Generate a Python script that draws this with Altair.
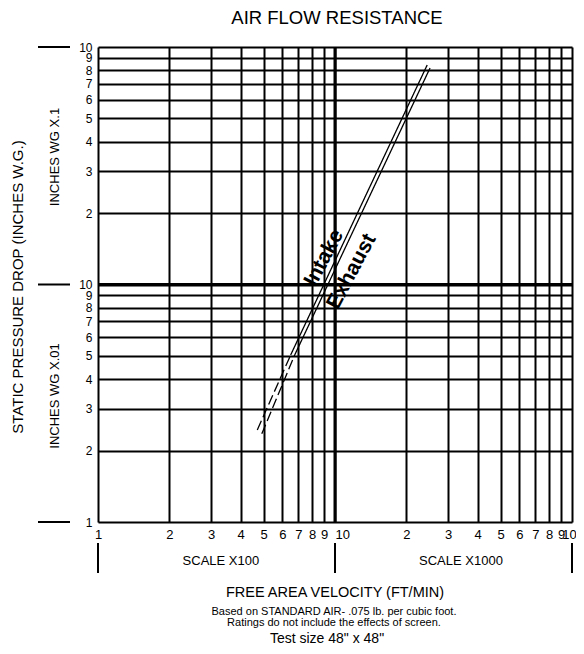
import altair as alt
import pandas as pd

FONT = "Liberation Sans"

# ---- data ----
x_ticks = [100, 200, 300, 400, 500, 600, 700, 800, 900, 1000,
           2000, 3000, 4000, 5000, 6000, 7000, 8000, 9000, 10000]
y_ticks = [0.01, 0.02, 0.03, 0.04, 0.05, 0.06, 0.07, 0.08, 0.09, 0.1,
           0.2, 0.3, 0.4, 0.5, 0.6, 0.7, 0.8, 0.9, 1.0]
major_x = [1000]
major_y = [0.1]
decade_y = [0.01, 0.1, 1.0]
decade_x = [100, 1000, 10000]

series = ["Intake", "Intake", "Intake", "Intake",
          "Exhaust", "Exhaust", "Exhaust", "Exhaust"]
segment = ["dashed", "dashed", "solid", "solid",
           "dashed", "dashed", "solid", "solid"]
velocity = [470, 650, 650, 2449, 491, 676, 676, 2518]
pressure = [0.0244, 0.0505, 0.0505, 0.84, 0.0235, 0.0505, 0.0505, 0.816]

label_names = ["Intake", "Exhaust"]
label_x = [901, 1176]
label_y = [0.1293, 0.1134]

scale_names = ["SCALE X100", "SCALE X1000"]
scale_x = [330, 3400]

title_text = "AIR FLOW RESISTANCE"
y_title = "STATIC PRESSURE DROP (INCHES W.G.)"
y_upper = "INCHES WG X.1"
y_lower = "INCHES WG X.01"
x_title = "FREE AREA VELOCITY (FT/MIN)"
note1 = "Based on STANDARD AIR-  .075 lb. per cubic foot."
note2 = "Ratings do not include the effects of screen."
note3 = 'Test size 48" x 48"'

# ---- chart ----
xs = alt.Scale(type="log", domain=[100, 10000], nice=False, zero=False)
ys = alt.Scale(type="log", domain=[0.01, 1], nice=False, zero=False)

lines_df = pd.DataFrame({"series": series, "segment": segment,
                         "v": velocity, "p": pressure,
                         "grp": [s + g for s, g in zip(series, segment)]})

x_axis = alt.Axis(values=x_ticks, grid=True, gridColor="black", gridWidth=2,
                  gridOpacity=1, ticks=False, domain=False, title=None,
                  labelFont=FONT, labelFontSize=13, labelColor="black",
                  labelPadding=6, labelFlush=False, labelOverlap=False,
                  labelAlign={"condition": {"test": "datum.value == 1000", "value": "left"},
                              "value": "center"},
                  labelOffset={"condition": {"test": "datum.value == 10000", "value": -3},
                               "value": 0},
                  labelExpr="datum.value <= 1000.5 ? '' + round(datum.value/100) : '' + round(datum.value/1000)")
y_axis = alt.Axis(values=y_ticks, grid=True, gridColor="black", gridWidth=2,
                  gridOpacity=1, ticks=False, domain=False, title=None,
                  labelFont=FONT, labelFontSize=12, labelColor="black",
                  labelPadding=6, labelFlush=False, labelOverlap=False,
                  labelBaseline="middle",
                  labelExpr="datum.value <= 0.1000001 ? '' + round(datum.value*100) : '' + round(datum.value*10)")

X = lambda f: alt.X(f, scale=xs, axis=x_axis)
Y = lambda f: alt.Y(f, scale=ys, axis=y_axis)

lines = alt.Chart(lines_df).mark_line(color="black", strokeWidth=1.3).encode(
    x=X("v:Q"),
    y=Y("p:Q"),
    detail="grp:N",
    strokeDash=alt.StrokeDash("segment:N",
                              scale=alt.Scale(domain=["dashed", "solid"], range=[[10, 4], [1, 0]]),
                              legend=None),
)

major_v = alt.Chart(pd.DataFrame({"v": major_x})).mark_rule(color="black", strokeWidth=3).encode(
    x=X("v:Q"))
major_h = alt.Chart(pd.DataFrame({"p": major_y})).mark_rule(color="black", strokeWidth=3).encode(
    y=Y("p:Q"))

left_dash = alt.Chart(pd.DataFrame({"p": decade_y})).mark_rule(color="black", strokeWidth=2).encode(
    y=Y("p:Q"), x=alt.value(-60), x2=alt.value(-28))

bottom_bars = alt.Chart(pd.DataFrame({"v": decade_x})).mark_rule(color="black", strokeWidth=2).encode(
    x=X("v:Q"), y=alt.value(496), y2=alt.value(526))

line_labels = alt.Chart(pd.DataFrame({"name": label_names, "v": label_x, "p": label_y})).mark_text(
    font=FONT, fontSize=21, fontWeight="bold", angle=298, color="black",
    align="center", baseline="middle").encode(
    x=X("v:Q"), y=Y("p:Q"), text="name:N")

scale_labels = alt.Chart(pd.DataFrame({"name": scale_names, "v": scale_x})).mark_text(
    font=FONT, fontSize=13, color="black", align="center", baseline="middle").encode(
    x=X("v:Q"), y=alt.value(514), text="name:N")


def note(txt, px, py, size, angle=0):
    return alt.Chart(pd.DataFrame({"t": [txt]})).mark_text(
        font=FONT, fontSize=size, color="black", align="center",
        baseline="middle", angle=angle).encode(
        x=alt.value(px), y=alt.value(py), text="t:N")


texts = [
    note(title_text, 239, -29, 18.5),
    note(y_title, -80, 240, 15, 270),
    note(y_upper, -43, 110, 13, 270),
    note(y_lower, -43, 349, 13, 270),
    note(x_title, 237, 546, 14.5),
    note(note1, 236, 564.5, 11),
    note(note2, 236, 575.5, 11),
    note(note3, 229, 592, 14),
]

chart = alt.layer(lines, major_v, major_h, left_dash, bottom_bars, line_labels,
                  scale_labels, *texts).properties(
    width=474, height=475,
    autosize=alt.AutoSizeParams(type="none"),
    padding={"left": 90, "top": 39, "right": 4, "bottom": 124},
).configure_view(stroke="black", strokeWidth=2).configure(background="white")

chart.save("out.html", embed_options={"renderer": "svg", "actions": False})
